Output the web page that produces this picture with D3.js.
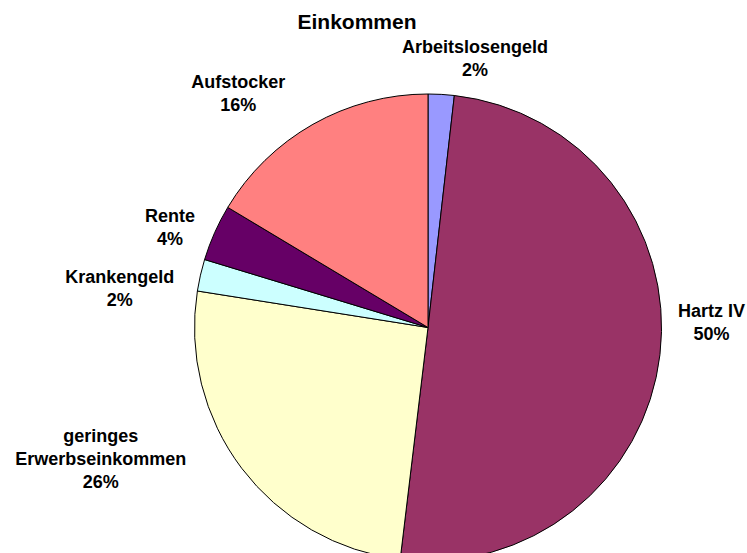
<!DOCTYPE html>
<html>
<head>
<meta charset="utf-8">
<script src="https://cdn.jsdelivr.net/npm/d3@7"></script>
<style>
  html, body { margin: 0; padding: 0; background: #fff; overflow: hidden; }
  text { font-family: "Liberation Sans", Arial, sans-serif; font-weight: bold; fill: #000; }
</style>
</head>
<body>
<svg id="chart"></svg>
<script>
// slices, clockwise from 12 o'clock
const categories = ["Arbeitslosengeld", "Hartz IV", "geringes Erwerbseinkommen", "Krankengeld", "Rente", "Aufstocker"];
const shares = [1.8, 50.1, 25.6, 2.2, 3.9, 16.4];
const percentLabels = ["2%", "50%", "26%", "2%", "4%", "16%"];
const labelLines = [["Arbeitslosengeld"], ["Hartz IV"], ["geringes", "Erwerbseinkommen"], ["Krankengeld"], ["Rente"], ["Aufstocker"]];
const colors = ["#9999FF", "#993366", "#FFFFCC", "#CCFFFF", "#660066", "#FF8080"];

const width = 747, height = 553;
const cx = 428, cy = 327.5, radius = 233.5;
const lineHeight = 23;

// manual label tweaks (Excel-style placement), relative to the label arc centroid
const labelNudge = [[31, 14], [2, -38], [-101, -40], [-32, 24], [1, 15], [-50, 12]];

let svg = d3.select("#chart")
  .attr("width", width)
  .attr("height", height);

svg.append("text")
  .attr("x", 357)
  .attr("y", 29)
  .attr("text-anchor", "middle")
  .style("font-size", "21px")
  .text("Einkommen");

let pie = d3.pie()
  .value(d => d)
  .sort(null);

let arcs = pie(shares);

let arc = d3.arc()
  .innerRadius(0)
  .outerRadius(radius);

let labelArc = d3.arc()
  .innerRadius(radius + 50)
  .outerRadius(radius + 50);

let g = svg.append("g")
  .attr("transform", `translate(${cx}, ${cy})`);

g.selectAll("path")
  .data(arcs)
  .enter().append("path")
  .attr("d", arc)
  .attr("fill", (d, i) => colors[i])
  .attr("stroke", "#000")
  .attr("stroke-width", 1)
  .attr("stroke-linejoin", "round");

let labels = g.selectAll("text.label")
  .data(arcs)
  .enter().append("text")
  .attr("class", "label")
  .attr("text-anchor", "middle")
  .style("font-size", "18px")
  .attr("transform", (d, i) => {
    let c = labelArc.centroid(d);
    return `translate(${c[0] + labelNudge[i][0]}, ${c[1] + labelNudge[i][1]})`;
  });

labels.each(function(d, i) {
  let lines = labelLines[i].concat([percentLabels[i]]);
  let top = -(lines.length - 1) * lineHeight / 2 + 6.5;
  d3.select(this).selectAll("tspan")
    .data(lines)
    .enter().append("tspan")
    .attr("x", 0)
    .attr("y", (t, k) => top + k * lineHeight)
    .text(t => t);
});
</script>
</body>
</html>
